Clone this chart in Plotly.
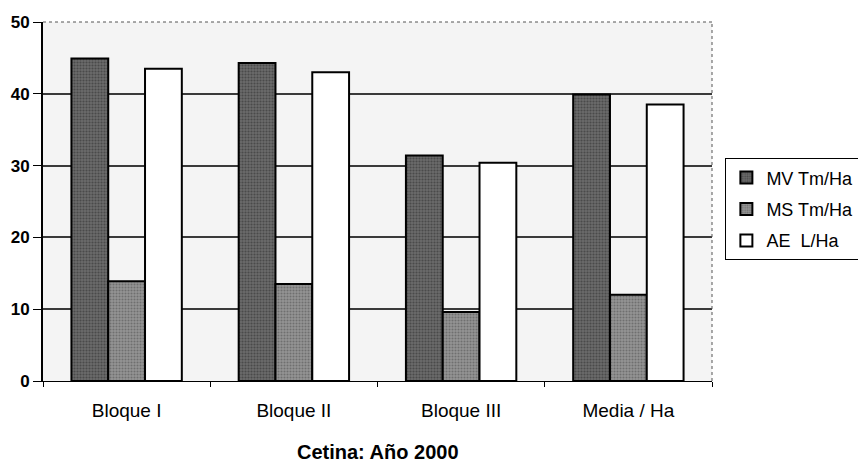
import plotly.graph_objects as go

categories = ["Bloque I", "Bloque II", "Bloque III", "Media / Ha"]
mv_tm_ha = [44.9, 44.3, 31.4, 39.9]
ms_tm_ha = [13.9, 13.5, 9.6, 12.0]
ae_l_ha = [43.5, 43.0, 30.4, 38.5]
y_ticks = [0, 10, 20, 30, 40, 50]

series = [
    ("MV Tm/Ha", mv_tm_ha, "#6a6a6a", "#2a2a2a"),
    ("MS Tm/Ha", ms_tm_ha, "#959595", "#4a4a4a"),
    ("AE  L/Ha", ae_l_ha, "#ffffff", "#ffffff"),
]

fig = go.Figure()
for i, (name, vals, bg, fg) in enumerate(series):
    fig.add_trace(go.Bar(
        name=name,
        x=categories,
        y=vals,
        legendgroup=f"g{i}",
        marker=dict(
            color=bg,
            line=dict(color="black", width=2),
            pattern=dict(shape="." if bg != "#ffffff" else "", fgcolor=fg,
                         bgcolor=bg, size=3, solidity=0.4),
        ),
    ))

fig.update_layout(
    width=858,
    height=469,
    margin=dict(l=43, r=146, t=22, b=88, autoexpand=False),
    barmode="group",
    bargap=0.34,
    bargroupgap=0,
    paper_bgcolor="white",
    plot_bgcolor="#f4f4f4",
    font=dict(family="Liberation Sans, Arial, sans-serif", color="black", size=13),
    showlegend=True,
    legend=dict(
        x=1.02, y=0.62, xanchor="left", yanchor="top",
        bordercolor="black", borderwidth=1,
        bgcolor="white",
        font=dict(size=18),
        traceorder="grouped",
        tracegroupgap=5,
        itemwidth=30,
    ),
    annotations=[dict(
        text="<b>Cetina: Año 2000</b>",
        xref="paper", yref="paper",
        x=0.5, y=-0.198, xanchor="center", yanchor="middle",
        showarrow=False,
        font=dict(size=20, color="black"),
    )],
)

fig.update_xaxes(
    showline=True, linecolor="black", linewidth=1,
    mirror=False,
    ticks="outside", ticklen=5, tickcolor="black",
    tickson="boundaries",
    ticklabelstandoff=12,
    showgrid=False,
    tickfont=dict(size=19),
)
fig.update_yaxes(
    range=[0, 50],
    tickvals=y_ticks,
    ticktext=[f"<b>{v}</b>" for v in y_ticks],
    showline=True, linecolor="black", linewidth=2,
    ticks="outside", ticklen=8, tickcolor="black",
    showgrid=True, gridcolor="#3a3a3a", gridwidth=1.5,
    zeroline=False,
    tickfont=dict(size=17),
)

# dotted top/right border of the plot area
fig.add_shape(type="line", xref="paper", yref="paper", x0=0, x1=1, y0=1, y1=1,
              line=dict(color="#555555", width=1, dash="dot"))
fig.add_shape(type="line", xref="paper", yref="paper", x0=1, x1=1, y0=0, y1=1,
              line=dict(color="#555555", width=1, dash="dot"))

fig.write_html("out.html")
